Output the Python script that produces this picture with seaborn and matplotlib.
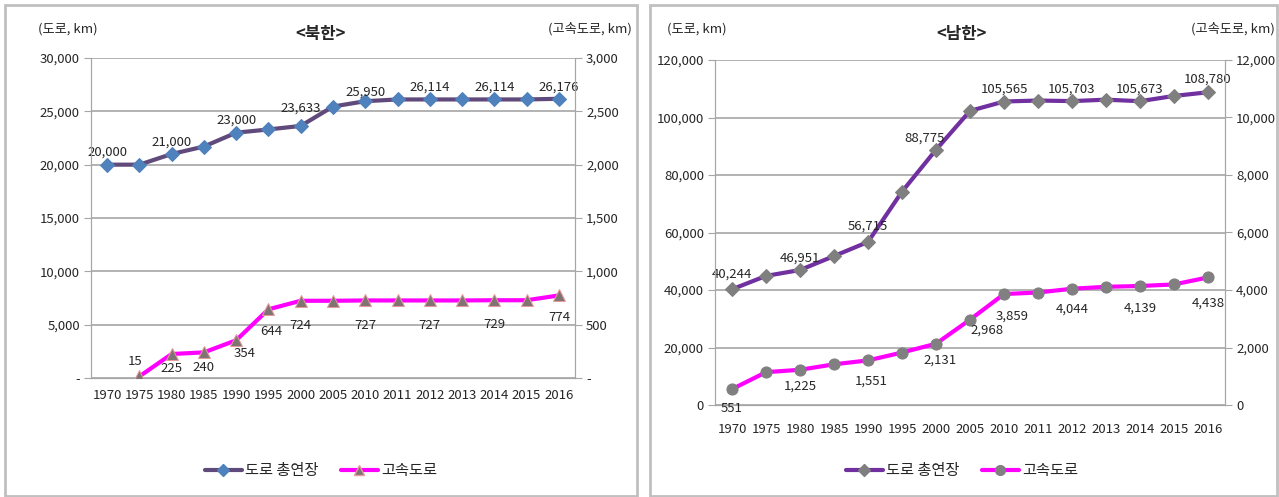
import numpy as np
import pandas as pd
import seaborn as sns
import matplotlib.pyplot as plt
from matplotlib.patches import Rectangle
from matplotlib.ticker import FuncFormatter, FixedLocator
from matplotlib.lines import Line2D

sns.set_style("white")
plt.rcParams['font.family'] = ['Noto Sans CJK KR', 'DejaVu Sans']

years = ['1970', '1975', '1980', '1985', '1990', '1995', '2000', '2005',
         '2010', '2011', '2012', '2013', '2014', '2015', '2016']

# 북한
nk_road = [20000, 20000, 21000, 21700, 23000, 23300, 23633, 25450,
           25950, 26114, 26114, 26114, 26114, 26114, 26176]
nk_expr = [np.nan, 15, 225, 240, 354, 644, 724, 724,
           727, 727, 727, 727, 729, 729, 774]
nk_road_lbl = ['1970', '1980', '1990', '2000', '2010', '2012', '2014', '2016']
nk_expr_lbl = ['1975', '1980', '1985', '1990', '1995', '2000', '2010', '2012', '2014', '2016']

# 남한
sk_road = [40244, 44900, 46951, 51800, 56715, 74200, 88775, 102300,
           105565, 105900, 105703, 106200, 105673, 107500, 108780]
sk_expr = [551, 1142, 1225, 1415, 1551, 1825, 2131, 2968,
           3859, 3913, 4044, 4111, 4139, 4193, 4438]
sk_road_lbl = ['1970', '1980', '1990', '2000', '2010', '2012', '2014', '2016']
sk_expr_lbl = ['1970', '1980', '1990', '2000', '2005', '2010', '2012', '2014', '2016']

GRID = '#a6a6a6'
W, H = 1279, 497

fig = plt.figure(figsize=(12.79, 4.97), dpi=100)

# panel frames
for x0, x1 in [(5, 637), (650, 1277)]:
    fig.patches.append(Rectangle((x0 / W, 1 / H), (x1 - x0) / W, 491 / H,
                                 transform=fig.transFigure, fill=False,
                                 edgecolor='#c0c0c0', lw=2))


def draw_panel(rect, title, road, expr, road_lbl, expr_lbl, ymax, step, road_c, road_mc,
               expr_m, expr_mc, expr_ec, zero_lbl, road_off, expr_off, cx, lx, rx, xpad):
    df = pd.DataFrame({'year': years, 'road': road, 'expr': expr})
    df['pos'] = np.arange(len(df))
    ax = fig.add_axes(rect)
    ax2 = ax.twinx()
    sns.lineplot(data=df, x='pos', y='road', ax=ax, color=road_c, lw=3,
                 marker='D', markersize=7, markerfacecolor=road_mc,
                 markeredgecolor=road_mc, zorder=3)
    sns.lineplot(data=df.dropna(), x='pos', y='expr', ax=ax2, color='#ff00ff', lw=3,
                 marker=expr_m, markersize=8, markerfacecolor=expr_mc,
                 markeredgecolor=expr_ec, zorder=3)
    n = len(years)
    for a, top in [(ax, ymax), (ax2, ymax / 10)]:
        a.set_xlim(-0.5, n - 0.5)
        a.set_ylim(0, top)
        a.set_xlabel('')
        a.set_ylabel('')
        for s in a.spines.values():
            s.set_color(GRID)
        a.spines['top'].set_visible(False)
        a.tick_params(axis='y', length=5, color=GRID, labelsize=9.5, pad=3)
    ax.set_yticks(np.arange(0, ymax + 1, step))
    ax2.set_yticks(np.arange(0, ymax / 10 + 1, step / 10))
    fmt = FuncFormatter(lambda v, p: zero_lbl if v == 0 else f'{v:,.0f}')
    ax.yaxis.set_major_formatter(fmt)
    ax2.yaxis.set_major_formatter(fmt)
    ax.yaxis.grid(True, color=GRID, lw=1.2)
    ax.set_axisbelow(True)
    ax.set_xticks(df['pos'])
    ax.set_xticklabels(years)
    ax.xaxis.set_minor_locator(FixedLocator(np.arange(n + 1) - 0.5))
    ax.tick_params(axis='x', which='major', length=0, labelsize=9.5, pad=xpad)
    ax.tick_params(axis='x', which='minor', length=5, color=GRID, direction='out')
    ax2.tick_params(axis='x', length=0)

    for y in road_lbl:
        i = years.index(y)
        ax.annotate(f'{road[i]:,}', (i, road[i]), xytext=road_off.get(y, (0, 4)),
                    textcoords='offset points', ha='center', va='bottom', fontsize=9.5)
    for y in expr_lbl:
        i = years.index(y)
        off = expr_off.get(y, (0, -8))
        ax2.annotate(f'{expr[i]:,}', (i, expr[i]), xytext=off, textcoords='offset points',
                     ha='center', va='bottom' if off[1] > 0 else 'top', fontsize=9.5)

    fig.text(cx / W, 1 - 34 / H, title, ha='center', va='center', fontsize=12, weight='bold')
    fig.text(lx / W, 1 - 29 / H, '(도로, km)', ha='left', va='center', fontsize=9.5)
    fig.text(rx / W, 1 - 29 / H, '(고속도로, km)', ha='right', va='center', fontsize=9.5)

    handles = [Line2D([], [], color=road_c, lw=3, marker='D', markersize=6,
                      markerfacecolor=road_mc, markeredgecolor=road_mc),
               Line2D([], [], color='#ff00ff', lw=3, marker=expr_m, markersize=7,
                      markerfacecolor=expr_mc, markeredgecolor=expr_ec)]
    fig.legend(handles, ['도로 총연장', '고속도로'], loc='center', ncol=2, frameon=False,
               bbox_to_anchor=(cx / W, 1 - 471 / H), fontsize=11,
               handlelength=2.4, columnspacing=1.5, handletextpad=0.2)


draw_panel([91 / W, 1 - 378 / H, 484 / W, 320 / H], '<북한>',
           nk_road, nk_expr, nk_road_lbl, nk_expr_lbl, 30000, 5000,
           '#604a7b', '#4f81bd', '^', '#7f7373', '#e59a9a', '-',
           {'2000': (0, 8), '2010': (0, 2)},
           {'1975': (-3, 6), '1980': (0, -6), '1985': (0, -6), '1990': (6, -5),
            '1995': (2, -11), '2000': (0, -13), '2010': (0, -13), '2012': (0, -13),
            '2014': (0, -13), '2016': (0, -11)},
           321, 38, 632, 8)

draw_panel([715 / W, 1 - 405 / H, 510 / W, 345 / H], '<남한>',
           sk_road, sk_expr, sk_road_lbl, sk_expr_lbl, 120000, 20000,
           '#7030a0', '#7f7f7f', 'o', '#808080', '#808080', '0',
           {'1970': (0, 6), '1990': (0, 7), '2000': (-8, 4), '2016': (0, 5)},
           {'1970': (0, -9), '1980': (0, -7), '1990': (2, -10), '2000': (3, -7),
            '2005': (12, -3), '2010': (6, -11), '2012': (0, -10), '2014': (0, -11),
            '2016': (0, -14)},
           962, 667, 1275, 13)

fig.savefig('out.png', dpi=100)
